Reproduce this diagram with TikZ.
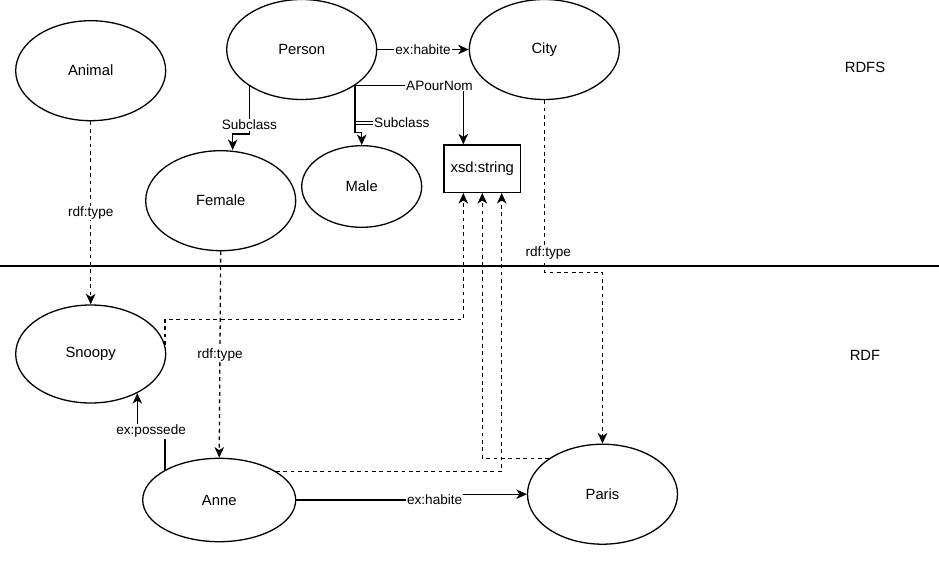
\documentclass[tikz,border=0pt]{standalone}
\usepackage{fontspec}
\setmainfont{Liberation Sans}
\usetikzlibrary{shapes.geometric,arrows.meta}
\begin{document}
\begin{tikzpicture}[x=1pt,y=-1pt,
  ell/.style={ellipse,draw,line width=1.3pt,minimum width=150pt,minimum height=100pt,inner sep=0pt,font=\fontsize{14.8}{17}\selectfont},
  box/.style={rectangle,draw,line width=1.3pt,minimum width=76.7pt,minimum height=47.3pt,inner sep=0pt,font=\fontsize{14.8}{17}\selectfont},
  txt/.style={inner sep=0pt,font=\fontsize{14.8}{17}\selectfont},
  conn/.style={line width=1.3pt},
  arr/.style={conn,-{Stealth[length=10.5pt,width=9.5pt,inset=3pt]}},
  dsh/.style={dash pattern=on 3.8pt off 3.6pt},
  lbl/.style={fill=white,inner sep=1pt,font=\fontsize{13.6}{16}\selectfont}]
\useasboundingbox (0,0) rectangle (939,567);
\fill[white] (0,0) rectangle (939,567);

% separator
\coordinate (sepL) at (0,266);
\coordinate (sepR) at (939,266);
\draw[conn] (sepL) -- (sepR);

% nodes
\node[ell] (animal) at (90.7,70.7) {Animal};
\node[ell] (person) at (301.7,49.5) {Person};
\node[ell] (city) at (544.3,49.5) {City};
\node[ell] (female) at (220.7,200.7) {Female};
\node[ell,minimum width=120pt,minimum height=81.6pt] (male) at (361.7,186.5) {Male};
\node[box] (xsd) at (482.3,168.7) {xsd:string};
\node[ell,minimum height=98pt] (snoopy) at (90.7,354) {Snoopy};
\node[ell,minimum width=153pt,minimum height=83.4pt] (anne) at (219.2,500) {Anne};
\node[ell] (paris) at (602.5,494.2) {Paris};
\node[txt] (rdfs) at (865,67) {RDFS};
\node[txt] (rdf) at (865,355) {RDF};

% RDFS edges
\draw[arr] (person.east) -- (city.west) node[lbl,midway] {ex:habite};
\draw[arr] (person.-34) -| ([xshift=-19pt]xsd.north) node[lbl,pos=0.39] {APourNom};
\draw[arr] (person.-145.6) -- ++(0,48) node[lbl,pos=0.81] {Subclass} -| ([xshift=12pt]female.north);
\draw[arr] (person.-34) -- ++(0,47) -| (male.north);
\node[lbl,fill=none,anchor=west] (lsm) at (373,123) {Subclass};
\draw[line width=0.9pt] ([yshift=2pt]lsm.west) -- ++(-18,0);
\draw[line width=0.9pt] ([yshift=-1.3pt]lsm.west) -- ++(-18,0);

% rdf:type edges
\draw[arr,dsh] (animal.south) -- (snoopy.north) node[lbl,midway] {rdf:type};
\draw[arr,dsh] (female.south) -- (anne.north) node[lbl,midway] {rdf:type};
\draw[arr,dsh] (city.south) -- ++(0,172.4) node[lbl,pos=0.884,xshift=4pt] {rdf:type} -| (paris.north);

% literal edges
\draw[arr,dsh] (snoopy.7) -- ++(0,-25.7) -| ([xshift=-19pt]xsd.south);
\draw[arr,dsh] (anne.27) -| ([xshift=19.4pt]xsd.south);
\draw[arr,dsh] (paris.146) -| (xsd.south);

% RDF edges
\draw[arr] (anne.east) -- ++(138.3,0) node[lbl] {ex:habite} |- (paris.west);
\draw[arr] (anne.151) -- ++(0,-38.5) -| (snoopy.-40) node[lbl,pos=0.25] {ex:possede};
\end{tikzpicture}
\end{document}
